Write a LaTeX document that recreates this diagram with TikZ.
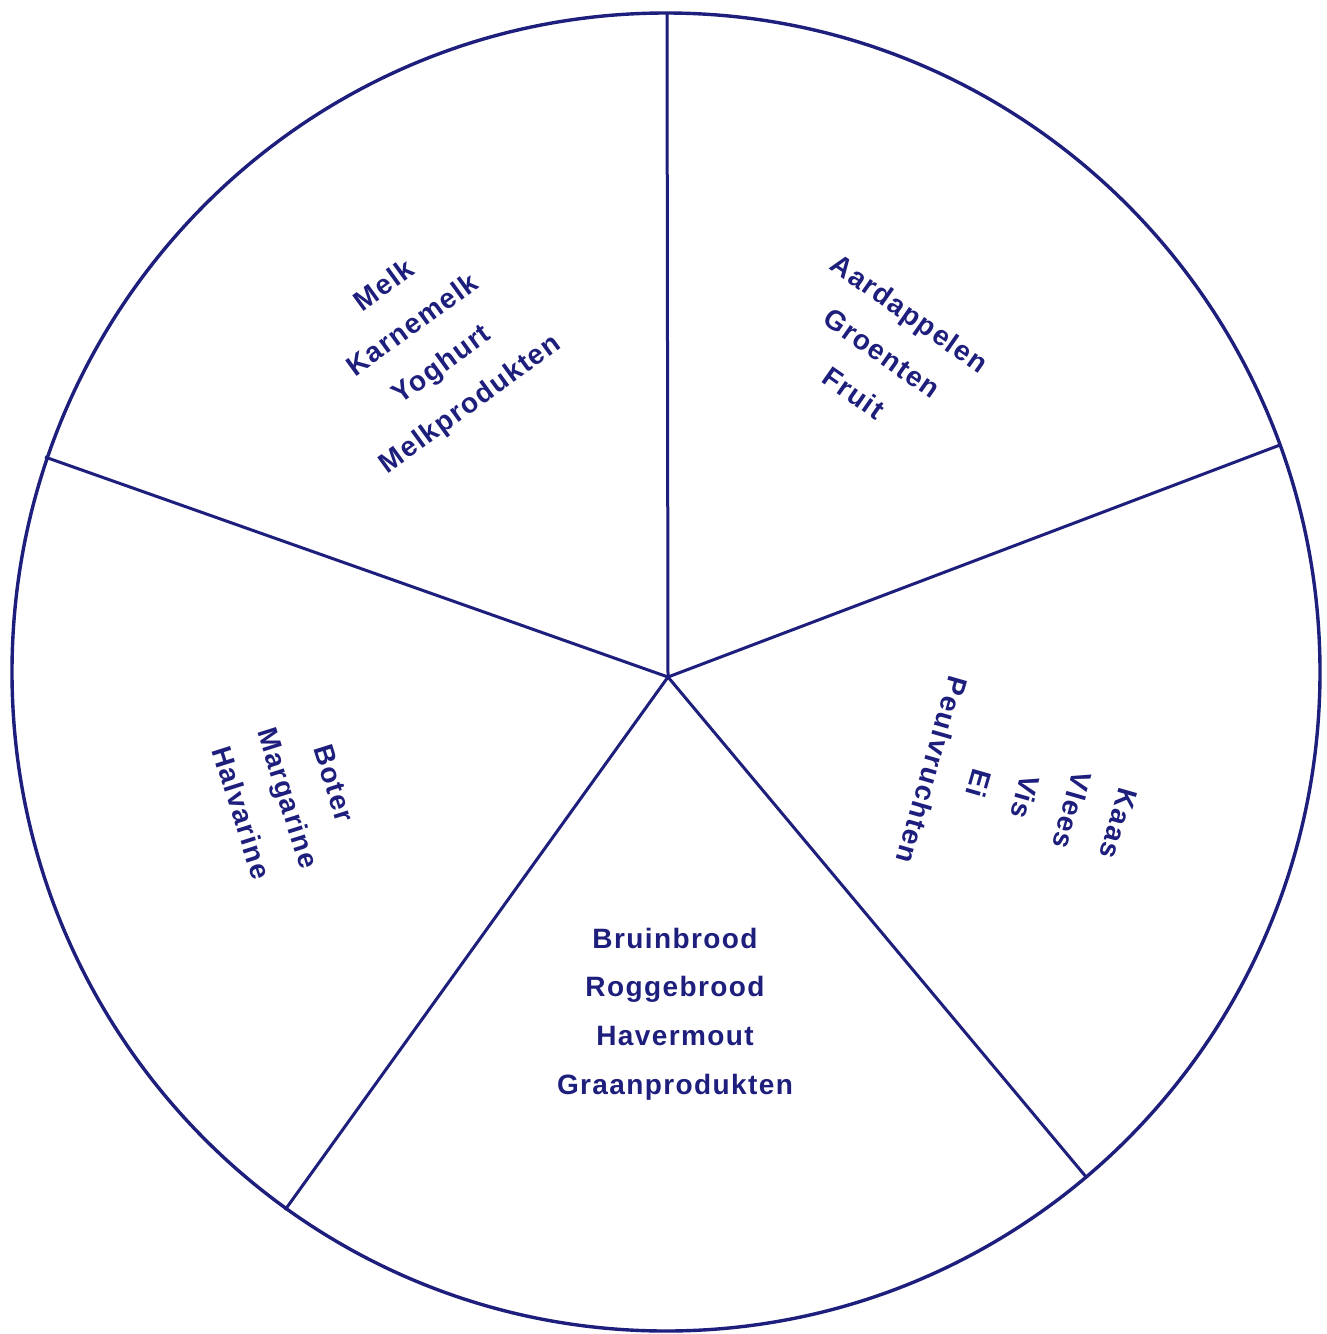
\documentclass[tikz,border=0pt]{standalone}
\usepackage{fontspec}
\setmainfont{Liberation Sans}[LetterSpace=5]
\definecolor{ink}{RGB}{30,30,125}
\begin{document}
\begin{tikzpicture}[x=0.5pt,y=-0.5pt,
  rim/.style={draw=ink,line width=1.7pt},
  spoke/.style={draw=ink,line width=1.5pt},
  lbl/.style={text=ink,align=center,inner sep=0pt,
    font=\fontsize{14}{24.3}\selectfont\bfseries}]
\useasboundingbox (0,0) rectangle (1327,1334);
\fill[white] (0,0) rectangle (1327,1334);
\draw[rim] (666,672) ellipse [x radius=654, y radius=659];
\coordinate (c) at (668,677);
\coordinate (p1) at (667,13);
\coordinate (p2) at (1280,445);
\coordinate (p3) at (1087,1178);
\coordinate (p4) at (285,1210);
\coordinate (p5) at (45,457);
\foreach \p in {p1,p2,p3,p4,p5} \draw[spoke] (c) -- (\p);
\node[lbl,rotate=36] (melk) at (428,346) {Melk\\Karnemelk\\Yoghurt\\Melkprodukten};
\node[lbl,rotate=-35] (aard) at (882,353) {Aardappelen\\Groenten\\Fruit};
\node[lbl,rotate=-106] (kaas) at (1025,797) {Kaas\\Vlees\\Vis\\Ei\\Peulvruchten};
\node[lbl,rotate=-72.5] (boter) at (288,798) {Boter\\Margarine\\Halvarine};
\node[lbl] (brood) at (675,1014) {Bruinbrood\\Roggebrood\\Havermout\\Graanprodukten};
\end{tikzpicture}
\end{document}
